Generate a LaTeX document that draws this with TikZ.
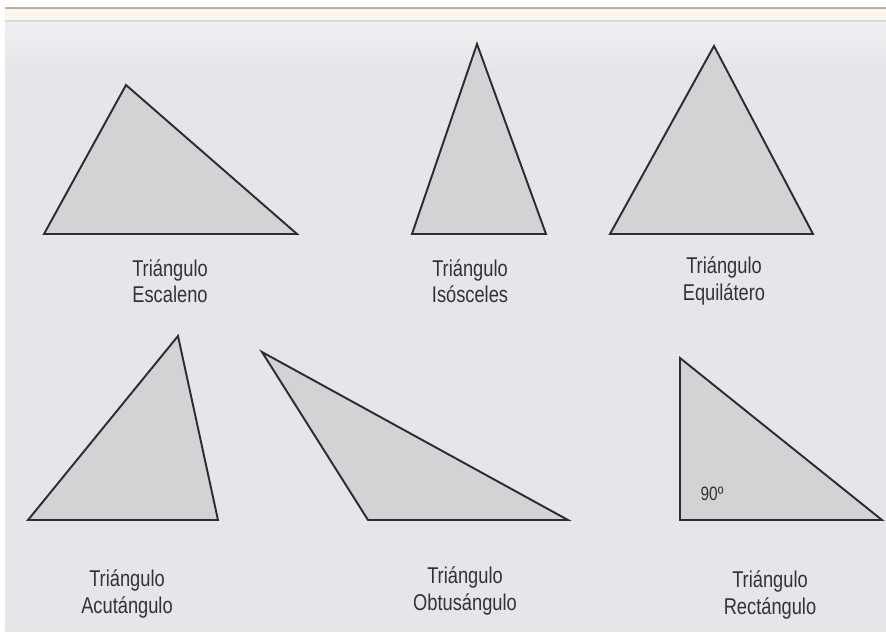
\documentclass[tikz,border=0pt]{standalone}
\usepackage{fontspec}
\setmainfont{Liberation Sans}[FakeStretch=0.8]
\usepackage{xcolor}
\usepackage{tikz}
\usetikzlibrary{calc}

\definecolor{panelgray}{RGB}{230,230,234}
\definecolor{trigray}{RGB}{211,211,213}
\definecolor{edgegray}{RGB}{45,45,48}
\definecolor{bandcream}{RGB}{251,247,238}
\definecolor{bandline}{RGB}{184,175,160}

\begin{document}
\begin{tikzpicture}[
    x=0.02cm, y=-0.02cm,
    every node/.style={font=\fontsize{13}{15}\selectfont, text=black!80},
    tri/.style={draw=edgegray, line width=1.1pt, fill=trigray, line join=miter},
    label/.style={align=center, inner sep=0pt},
]
  % frame and background
  \useasboundingbox (0,0) rectangle (886,637);
  \fill[white] (0,0) rectangle (886,637);
  \fill[bandcream] (5,8) rectangle (886,21);
  \draw[bandline, line width=1pt] (5,8) -- (886,8);
  \draw[black!15, line width=0.6pt] (5,21) -- (886,21);
  \shade[top color=panelgray!60, bottom color=panelgray] (5,22) rectangle (886,70);
  \fill[panelgray] (5,70) rectangle (886,632);

  % top row
  \draw[tri] (44,234) -- (126,85) -- (297,234) -- cycle;
  \draw[tri] (412,234) -- (477,44) -- (546,234) -- cycle;
  \draw[tri] (610,234) -- (714,46) -- (813,234) -- cycle;

  \node[label] (escaleno)   at (170,281) {Triángulo\\Escaleno};
  \node[label] (isosceles)  at (470,281) {Triángulo\\Isósceles};
  \node[label] (equilatero) at (724,281) {Triángulo\\Equilátero};

  % bottom row
  \draw[tri] (28,520) -- (178,336) -- (218,520) -- cycle;
  \draw[tri] (262,352) -- (368,520) -- (568,520) -- cycle;
  \draw[tri] (680,358) -- (680,520) -- (882,520) -- cycle;
  \node[font=\fontsize{11}{13}\selectfont, inner sep=0pt] (recto) at (712,494) {90º};

  \node[label] (acutangulo)  at (127,594) {Triángulo\\Acutángulo};
  \node[label] (obtusangulo) at (465,591) {Triángulo\\Obtusángulo};
  \node[label] (rectangulo)  at (770,595) {Triángulo\\Rectángulo};
\end{tikzpicture}
\end{document}
